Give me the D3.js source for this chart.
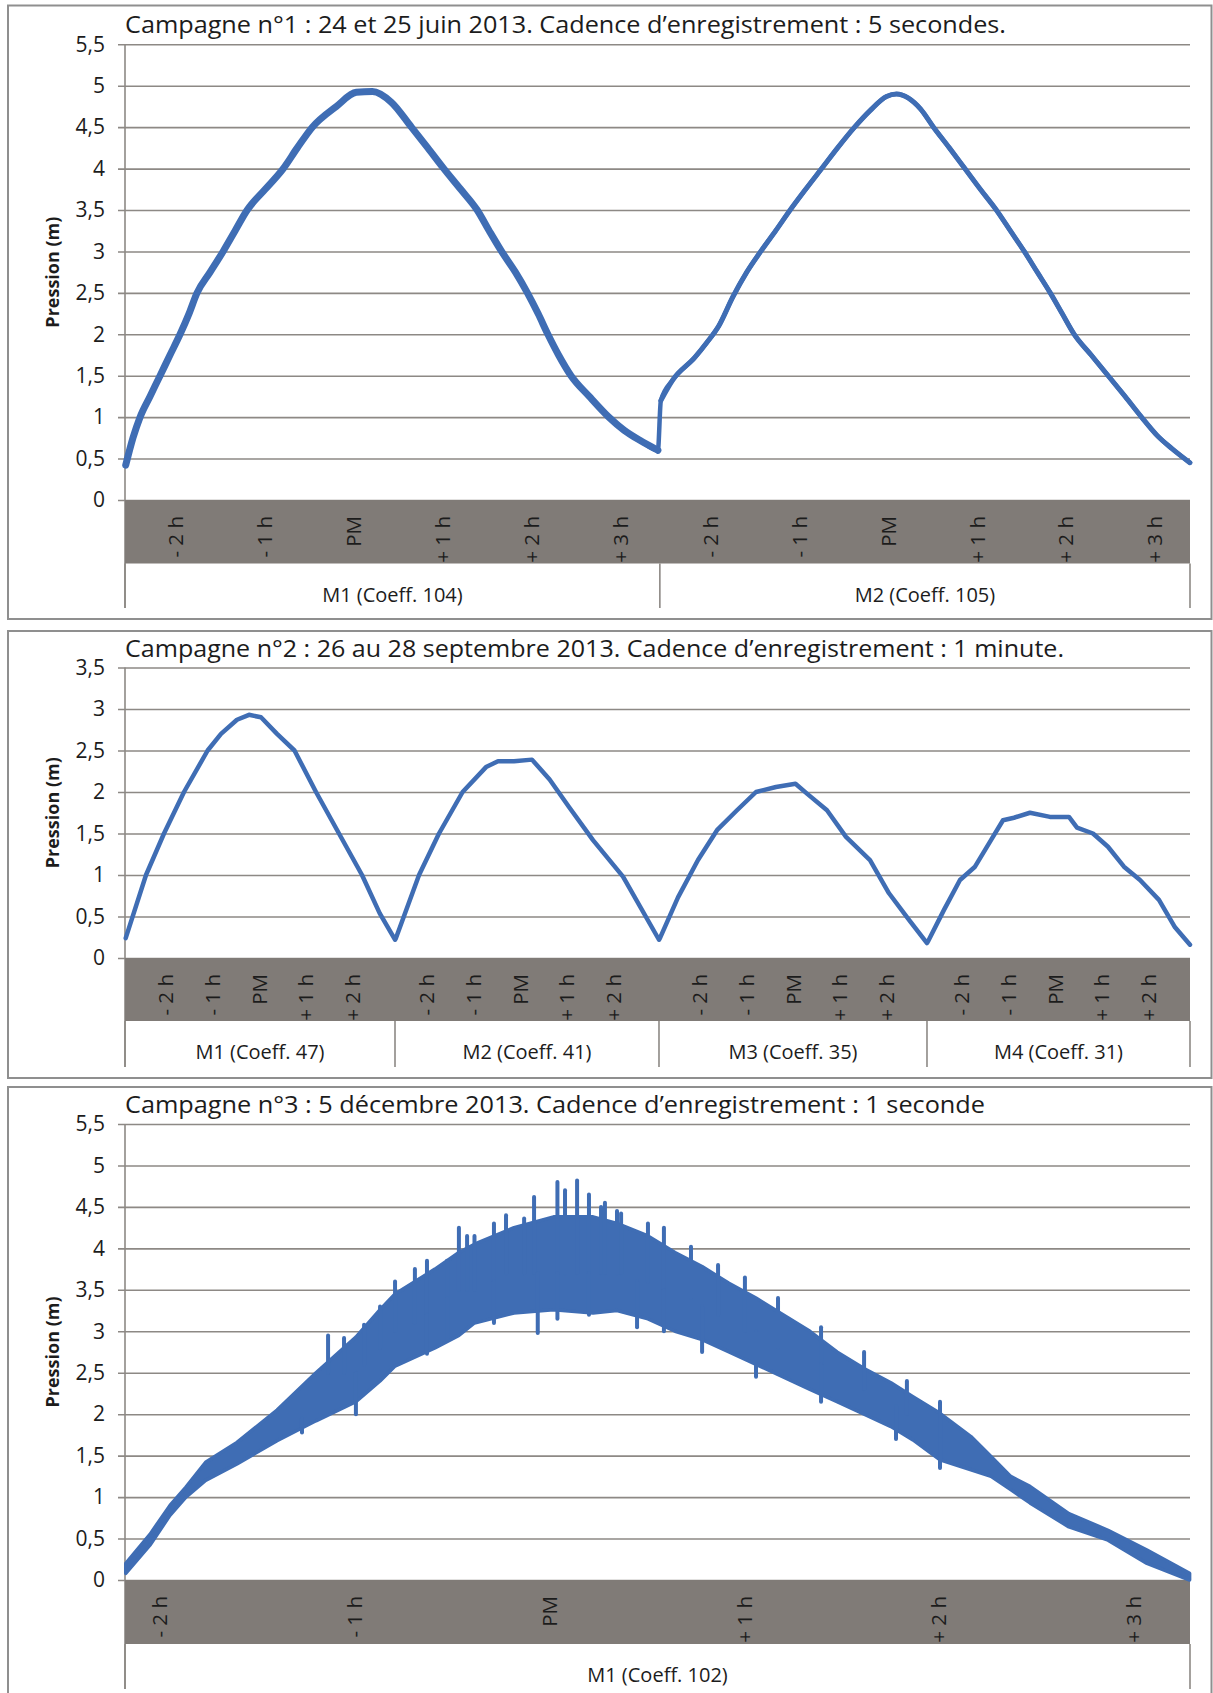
<!DOCTYPE html>
<html><head><meta charset="utf-8">
<script src="https://cdn.jsdelivr.net/npm/d3@7"></script>
<style>
body{margin:0;background:#fff}
svg{display:block}
text{font-family:"Open Sans",sans-serif;fill:#1c1c1c}
</style>
</head><body>
<svg id="chart" width="1213" height="1693"></svg>
<script>
// ================= DATA =================
const titles = [
  "Campagne n°1 : 24 et 25 juin 2013. Cadence d’enregistrement : 5 secondes.",
  "Campagne n°2 : 26 au 28 septembre 2013. Cadence d’enregistrement : 1 minute.",
  "Campagne n°3 : 5 décembre 2013. Cadence d’enregistrement : 1 seconde"
];
const yAxisTitle = "Pression (m)";

const yTicksA = [0,0.5,1,1.5,2,2.5,3,3.5,4,4.5,5,5.5];
const yTicksB = [0,0.5,1,1.5,2,2.5,3,3.5];

const hourMarksA = [-2,-1,0,1,2,3];
const hourLabelsA = ["- 2 h","- 1 h","PM","+ 1 h","+ 2 h","+ 3 h"];
const hourMarksB = [-2,-1,0,1,2];
const hourLabelsB = ["- 2 h","- 1 h","PM","+ 1 h","+ 2 h"];

// Campagne 1 : hours relative to high tide (PM), pressure (m)
const groups1 = ["M1 (Coeff. 104)","M2 (Coeff. 105)"];
const spans1 = [[-2.574,3.439],[-2.567,3.393]];
const c1m1 = [[-2.566,0.42],[-2.484,0.75],[-2.405,1.0],[-2.293,1.25],[-2.180,1.5],[-2.068,1.75],[-1.955,2.0],[-1.854,2.25],[-1.764,2.5],[-1.617,2.75],[-1.471,3.0],[-1.336,3.25],[-1.200,3.5],[-0.998,3.75],[-0.795,4.0],[-0.637,4.25],[-0.468,4.5],[-0.198,4.75],[0.027,4.92],[0.207,4.93],[0.421,4.8],[0.646,4.5],[0.830,4.25],[1.010,4.0],[1.200,3.75],[1.385,3.5],[1.520,3.25],[1.660,3.0],[1.815,2.75],[1.950,2.5],[2.070,2.25],[2.180,2.0],[2.300,1.75],[2.440,1.5],[2.645,1.25],[2.865,1.0],[3.039,0.84],[3.214,0.72],[3.417,0.6]];
const c1m2 = [[-2.556,1.2],[-2.421,1.45],[-2.174,1.72],[-2.039,1.9],[-1.905,2.1],[-1.747,2.45],[-1.590,2.75],[-1.433,3.0],[-1.265,3.25],[-1.102,3.5],[-0.928,3.75],[-0.748,4.0],[-0.569,4.25],[-0.378,4.5],[-0.204,4.7],[-0.019,4.87],[0.093,4.9],[0.228,4.85],[0.363,4.72],[0.509,4.5],[0.688,4.25],[0.862,4.0],[1.036,3.75],[1.216,3.5],[1.373,3.25],[1.530,3.0],[1.676,2.75],[1.822,2.5],[1.956,2.25],[2.091,2.0],[2.282,1.75],[2.473,1.5],[2.663,1.25],[2.848,1.0],[3.022,0.78],[3.190,0.62],[3.392,0.45]];

// Campagne 2
const groups2 = ["M1 (Coeff. 47)","M2 (Coeff. 41)","M3 (Coeff. 35)","M4 (Coeff. 31)"];
const spans2 = [[-2.88,2.914],[-2.687,2.978],[-2.88,2.871],[-2.751,2.893]];
const c2m1 = [[-2.865,0.24],[-2.429,1.0],[-2.043,1.5],[-1.614,2.0],[-1.107,2.5],[-0.820,2.7],[-0.477,2.87],[-0.219,2.93],[0.038,2.9],[0.382,2.7],[0.757,2.5],[1.219,2.0],[1.712,1.5],[2.206,1.0],[2.584,0.54],[2.914,0.22]];
const c2m2 = [[-2.666,0.24],[-2.171,1.0],[-1.743,1.5],[-1.236,2.0],[-0.734,2.3],[-0.477,2.37],[-0.133,2.37],[0.253,2.39],[0.631,2.15],[1.047,1.82],[1.562,1.42],[2.206,0.98],[2.978,0.22]];
const c2m3 = [[-2.859,0.24],[-2.472,0.73],[-2.043,1.18],[-1.635,1.54],[-1.206,1.78],[-0.798,2.0],[-0.369,2.06],[0.049,2.1],[0.296,1.98],[0.725,1.78],[1.133,1.46],[1.648,1.18],[2.056,0.78],[2.485,0.46],[2.871,0.18]];
const c2m4 = [[-2.730,0.2],[-2.386,0.58],[-2.043,0.94],[-1.721,1.1],[-1.378,1.42],[-1.120,1.66],[-0.884,1.69],[-0.541,1.75],[-0.112,1.70],[0.296,1.70],[0.468,1.57],[0.811,1.5],[1.133,1.34],[1.476,1.1],[1.820,0.94],[2.227,0.70],[2.571,0.37],[2.893,0.16]];

// Campagne 3 : noisy record -> [hour, low envelope, high envelope]
const groups3 = ["M1 (Coeff. 102)"];
const spans3 = [[-2.18,3.29]];
const c3band = [[-2.176,0.08,0.2],[-2.052,0.42,0.55],[-1.949,0.78,0.9],[-1.867,1.0,1.12],[-1.766,1.2,1.42],[-1.605,1.4,1.66],[-1.399,1.68,2.05],[-1.199,1.92,2.5],[-0.994,2.15,2.93],[-0.870,2.4,3.26],[-0.793,2.58,3.45],[-0.588,2.8,3.75],[-0.465,2.95,3.95],[-0.385,3.1,4.05],[-0.182,3.22,4.25],[0.021,3.26,4.38],[0.224,3.22,4.38],[0.347,3.25,4.3],[0.506,3.15,4.15],[0.645,3.0,3.95],[0.784,2.9,3.78],[0.922,2.75,3.58],[1.061,2.6,3.4],[1.200,2.45,3.2],[1.338,2.3,3.0],[1.477,2.15,2.75],[1.616,2.0,2.55],[1.754,1.85,2.38],[1.867,1.69,2.21],[2.006,1.45,2.01],[2.165,1.33,1.73],[2.268,1.25,1.49],[2.369,1.09,1.25],[2.468,0.93,1.13],[2.668,0.64,0.80],[2.869,0.48,0.60],[3.069,0.20,0.36],[3.288,0.0,0.08]];
// individual spikes seen at the edges of the band: [hour, from, to]
const c3spikes = [
  [-1.271,1.95,1.78],[-1.137,2.5,2.95],[-1.055,2.5,2.92],[-0.994,2.5,2.0],[-0.952,2.6,3.08],[-0.870,2.8,3.3],
  [-0.793,3.0,3.6],[-0.691,3.1,3.75],[-0.629,3.2,3.85],[-0.629,3.2,2.73],[-0.526,3.4,3.85],[-0.526,3.4,2.9],
  [-0.465,3.5,4.25],[-0.423,3.5,4.15],[-0.385,3.5,4.15],[-0.285,3.6,4.3],[-0.285,3.6,3.1],[-0.223,3.7,4.4],
  [-0.130,3.7,4.36],[-0.079,3.7,4.62],[-0.060,3.7,2.98],[0.041,3.7,4.8],[0.041,3.7,3.15],[0.080,3.7,4.7],
  [0.142,3.7,4.82],[0.203,3.7,4.65],[0.203,3.7,3.2],[0.265,3.7,4.5],[0.285,3.7,4.55],[0.347,3.7,4.45],
  [0.368,3.7,4.42],[0.450,3.6,3.05],[0.506,3.6,4.3],[0.588,3.5,4.25],[0.588,3.5,3.0],[0.727,3.4,4.02],
  [0.784,3.3,2.75],[0.866,3.2,3.8],[1.004,3.0,3.65],[1.061,3.0,2.45],[1.174,2.8,3.4],[1.395,2.6,3.05],
  [1.395,2.6,2.15],[1.616,2.3,2.75],[1.780,2.1,1.7],[1.836,2.0,2.4],[2.006,1.7,2.15],[2.006,1.7,1.35]
];

// ================= DRAWING =================
const svg = d3.select("#chart");
const L = 125, R = 1190;
const BLUE = "#3f6db4", GRID = "#8d8985", BAND = "#807b77", FRAME = "#8f8f8f";
const fmt = d3.formatLocale({decimal:",",thousands:" ",grouping:[3],currency:["","€"]}).format(".1~f");

svg.append("rect").attr("width",1213).attr("height",1693).attr("fill","#fff");

function panel(cfg){
  const g = svg.append("g");
  g.append("rect").attr("x",8).attr("y",cfg.boxTop).attr("width",1203.5)
    .attr("height",cfg.boxBottom-cfg.boxTop).attr("fill","#fff")
    .attr("stroke",FRAME).attr("stroke-width",2);

  const widths = cfg.spans.map(s=>s[1]-s[0]);
  const offsets = widths.map((w,i)=>d3.sum(widths.slice(0,i)));
  const total = d3.sum(widths);
  const x = d3.scaleLinear().domain([0,total]).range([L,R]);
  const gx = (i,t)=> x(offsets[i] + t - cfg.spans[i][0]);
  const y = d3.scaleLinear().domain([0,cfg.yMax]).range([cfg.y0,cfg.yTop]);

  const ax = g.append("g").attr("transform",`translate(${L-7},0)`)
    .call(d3.axisLeft(y).tickValues(cfg.yTicks).tickFormat(fmt)
      .tickSizeInner(-(R-L+7)).tickSizeOuter(0).tickPadding(13));
  ax.select(".domain").remove();
  ax.selectAll(".tick line").attr("stroke",GRID).attr("stroke-width",1.6);
  ax.selectAll(".tick text").attr("font-size",21).attr("fill","#1c1c1c")
    .attr("font-family","'Open Sans',sans-serif");

  g.append("line").attr("x1",L).attr("x2",L).attr("y1",cfg.yTop).attr("y2",cfg.catBottom)
    .attr("stroke",GRID).attr("stroke-width",1.6);
  const seps = [0,...widths.map((w,i)=>offsets[i]+w)];
  g.selectAll(".sep").data(seps).enter().append("line")
    .attr("x1",d=>x(d)).attr("x2",d=>x(d)).attr("y1",cfg.bandBottom).attr("y2",cfg.catBottom)
    .attr("stroke",GRID).attr("stroke-width",1.6);

  g.append("rect").attr("x",L).attr("y",cfg.y0).attr("width",R-L)
    .attr("height",cfg.bandBottom-cfg.y0).attr("fill",BAND);

  cfg.groups.forEach((name,i)=>{
    cfg.hourMarks.forEach((h,j)=>{
      g.append("text")
        .attr("transform",`translate(${gx(i,h)},${cfg.y0+16}) rotate(-90)`)
        .attr("text-anchor","end").attr("dy","0.36em")
        .attr("font-size",20.5).attr("fill","#111")
        .text(cfg.hourLabels[j]);
    });
    g.append("text")
      .attr("x",(gx(i,cfg.spans[i][0])+gx(i,cfg.spans[i][1]))/2)
      .attr("y",cfg.bandBottom+38).attr("text-anchor","middle")
      .attr("font-size",20).text(name);
  });

  g.append("text").attr("x",L).attr("y",cfg.titleY).attr("font-size",24)
    .attr("textLength",cfg.titleW).attr("lengthAdjust","spacingAndGlyphs").text(cfg.title);

  g.append("text")
    .attr("transform",`translate(53,${(cfg.y0+cfg.yTop)/2}) rotate(-90)`)
    .attr("text-anchor","middle").attr("dy","0.36em")
    .attr("font-size",18).attr("font-weight","bold").text(yAxisTitle);

  return {x,gx,y,g};
}

function drawLines(p, series, widthsPerGroup, curve){
  const pts = [];
  series.forEach((s,i)=> s.forEach(d=> pts.push([p.gx(i,d[0]), p.y(d[1])])));
  const line = d3.line().curve(curve);
  p.g.append("path").attr("d",line(pts)).attr("fill","none").attr("stroke",BLUE)
    .attr("stroke-width",4.5).attr("stroke-linejoin","round").attr("stroke-linecap","round");
  series.forEach((s,i)=>{
    if(widthsPerGroup && widthsPerGroup[i]){
      p.g.append("path").attr("d",line(s.map(d=>[p.gx(i,d[0]),p.y(d[1])])))
        .attr("fill","none").attr("stroke",BLUE).attr("stroke-width",widthsPerGroup[i])
        .attr("stroke-linejoin","round").attr("stroke-linecap","round");
    }
  });
}

// Panel 1
const p1 = panel({boxTop:5.5,boxBottom:619,y0:500,yTop:44.3,yMax:5.5,yTicks:yTicksA,
  bandBottom:563.5,catBottom:608,titleY:33,titleW:881,title:titles[0],
  groups:groups1,spans:spans1,hourMarks:hourMarksA,hourLabels:hourLabelsA});
drawLines(p1,[c1m1,c1m2],[7,5],d3.curveMonotoneX);

// Panel 2
const p2 = panel({boxTop:631,boxBottom:1078,y0:958,yTop:667.5,yMax:3.5,yTicks:yTicksB,
  bandBottom:1021,catBottom:1067,titleY:657,titleW:939,title:titles[1],
  groups:groups2,spans:spans2,hourMarks:hourMarksB,hourLabels:hourLabelsB});
drawLines(p2,[c2m1,c2m2,c2m3,c2m4],null,d3.curveLinear);

// Panel 3
const p3 = panel({boxTop:1087,boxBottom:1700,y0:1580,yTop:1124,yMax:5.5,yTicks:yTicksA,
  bandBottom:1644,catBottom:1689,titleY:1113,titleW:860,title:titles[2],
  groups:groups3,spans:spans3,hourMarks:hourMarksA,hourLabels:hourLabelsA});
const area3 = d3.area().x(d=>p3.gx(0,d[0])).y0(d=>p3.y(d[1])).y1(d=>p3.y(d[2]));
p3.g.append("path").attr("d",area3(c3band)).attr("fill",BLUE)
  .attr("stroke",BLUE).attr("stroke-width",3.5).attr("stroke-linejoin","round");
p3.g.selectAll(".spike").data(c3spikes).enter().append("line")
  .attr("x1",d=>p3.gx(0,d[0])).attr("x2",d=>p3.gx(0,d[0]))
  .attr("y1",d=>p3.y(d[1])).attr("y2",d=>p3.y(d[2]))
  .attr("stroke",BLUE).attr("stroke-width",4).attr("stroke-linecap","round");
</script>
</body></html>
